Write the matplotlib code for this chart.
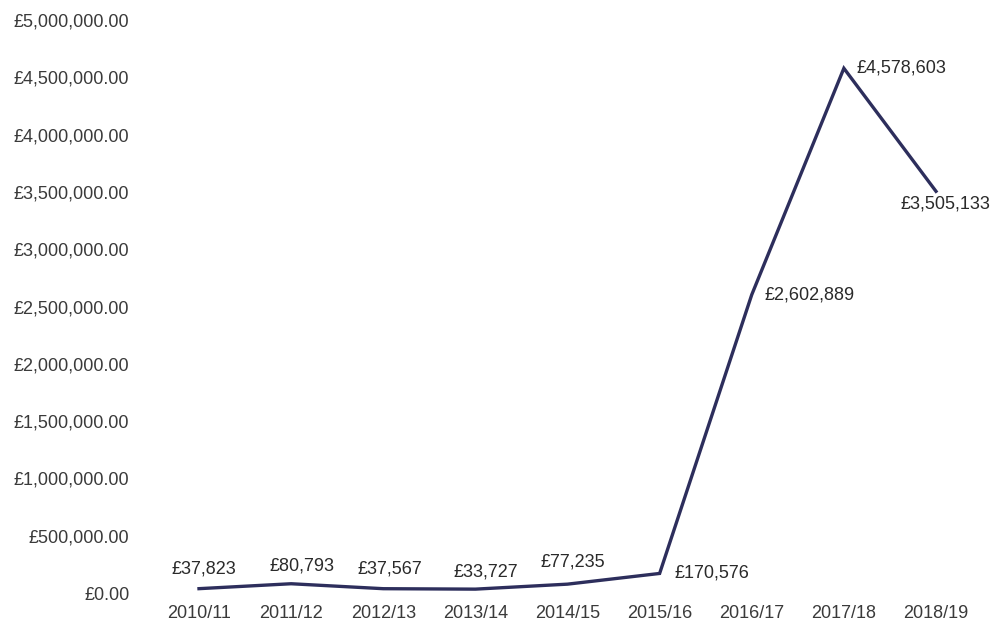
import matplotlib
matplotlib.use("Agg")
import matplotlib.pyplot as plt
from matplotlib.ticker import FuncFormatter

years = ["2010/11", "2011/12", "2012/13", "2013/14", "2014/15",
         "2015/16", "2016/17", "2017/18", "2018/19"]
values = [37823, 80793, 37567, 33727, 77235, 170576, 2602889, 4578603, 3505133]
yticks = [0, 500000, 1000000, 1500000, 2000000, 2500000,
          3000000, 3500000, 4000000, 4500000, 5000000]

# label offsets in pixels (dx, dy, ha)
offsets = [(5, 20, "center"), (11, 18, "center"), (7, 20, "center"),
           (10, 17, "center"), (5, 22, "center"), (52, 0, "center"),
           (13, 0, "left"), (13, 0, "left"), (9, -13, "center")]

plt.rcParams["font.family"] = ["Liberation Sans", "DejaVu Sans"]
W, H = 995, 625
fig = plt.figure(figsize=(W / 100, H / 100), dpi=100)
ax_left, ax_right = 142, 990
ax_top, ax_bottom = 20, 593
ax = fig.add_axes([ax_left / W, (H - ax_bottom) / H,
                   (ax_right - ax_left) / W, (ax_bottom - ax_top) / H])

x = list(range(len(years)))
ax.plot(x, values, color="#2d2e5c", linewidth=2.4, solid_joinstyle="miter",
        clip_on=False)

px_per_unit = (936 - 199) / 8
ax.set_xlim(-(199 - ax_left) / px_per_unit, 8 + (ax_right - 936) / px_per_unit)
ax.set_ylim(0, 5000000)
ax.set_yticks(yticks)
ax.yaxis.set_major_formatter(FuncFormatter(lambda v, p: "£{:,.2f}".format(v)))
ax.set_xticks(x)
ax.set_xticklabels(years)

for s in ax.spines.values():
    s.set_visible(False)
ax.tick_params(axis="both", length=0, labelsize=13, colors="#3a3a3a")
ax.tick_params(axis="y", pad=9)
ax.tick_params(axis="x", pad=9)

for xi, v, (dx, dy, ha) in zip(x, values, offsets):
    ax.annotate("£{:,}".format(v), (xi, v), xytext=(dx, dy),
                textcoords="offset pixels", ha=ha, va="center",
                fontsize=13, color="#2a2a2a", annotation_clip=False)

fig.savefig("out.png", dpi=100)
